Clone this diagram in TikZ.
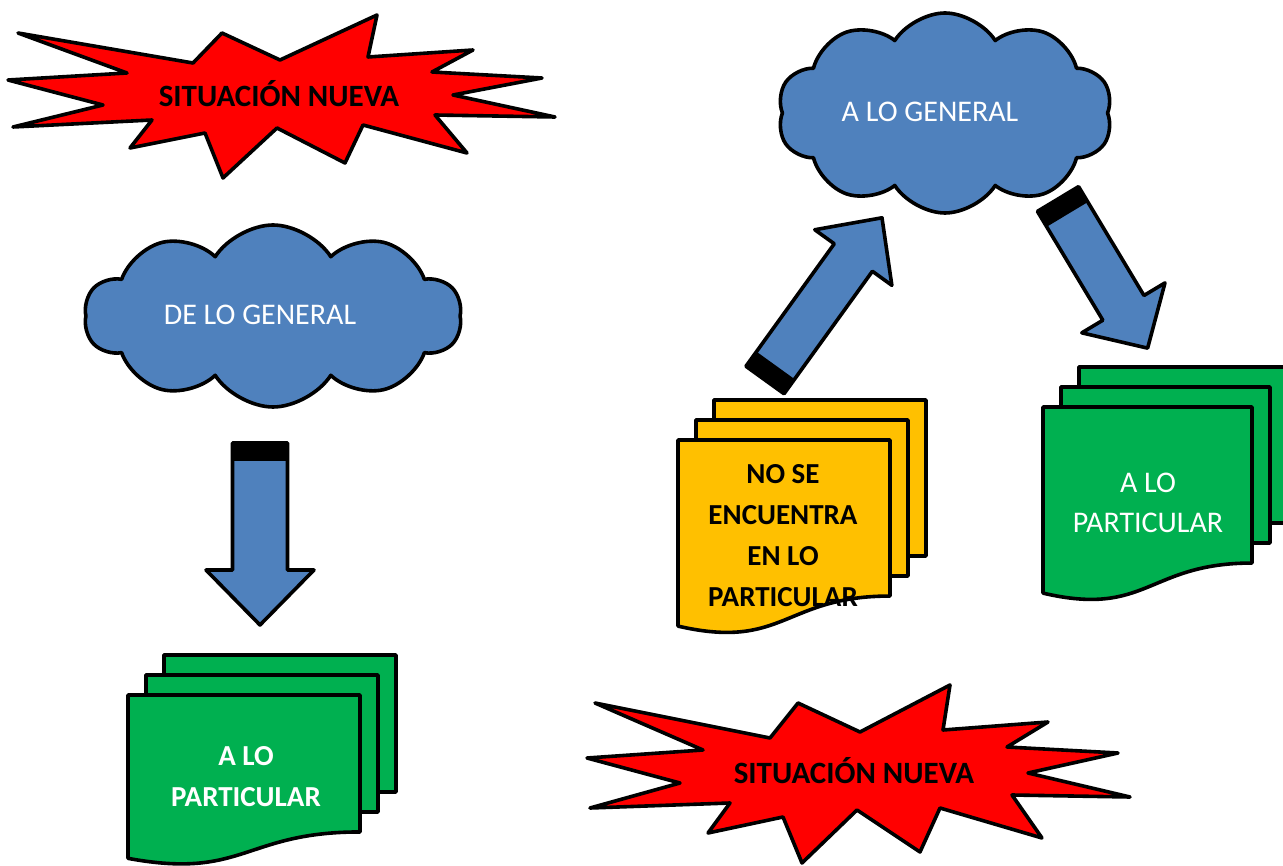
\documentclass[tikz,border=0pt]{standalone}
\usepackage{fontspec}
\setmainfont{Carlito}
\usetikzlibrary{shapes.symbols}

\definecolor{burstred}{HTML}{FF0000}
\definecolor{cloudblue}{HTML}{4F81BD}
\definecolor{docgreen}{HTML}{00B050}
\definecolor{docyellow}{HTML}{FFC000}

\tikzset{
  outline/.style={draw=black, line width=3.6pt, line join=round},
  burstbox/.style={outline, fill=burstred},
  cloudbox/.style={cloud, cloud puffs=10, cloud puff arc=115, outline, fill=cloudblue, inner sep=0pt},
  arrowbox/.style={outline, fill=cloudblue},
  docbox/.style={outline},
  burstext/.style={font=\fontsize{31}{41}\selectfont\bfseries, align=center},
  plaintext/.style={font=\fontsize{30}{40}\selectfont, align=center},
  boldtext/.style={font=\fontsize{29}{41}\selectfont\bfseries, align=center}
}

% block arrow: tail x, tail y, turn, length, half shaft, half head, head length
\newcommand{\blockarrow}[7]{%
  \begin{scope}[shift={(#1,#2)}, rotate=#3]
    \filldraw[arrowbox] (-#5,0) -- (-#5,#4-#7) -- (-#6,#4-#7) -- (0,#4)
      -- (#6,#4-#7) -- (#5,#4-#7) -- (#5,0) -- cycle;
    \fill[black] (-#5,0) rectangle (#5,18);
  \end{scope}}

% stack of pages: x, y, width, height, colour
\newcommand{\multidoc}[5]{%
  \foreach \k in {2,1}
    \filldraw[docbox, fill=#5] ({#1+18*\k},{#2-20*\k}) rectangle ++(#3,{0.83*#4});
  \filldraw[docbox, fill=#5] (#1,#2) -- ++(#3,0) -- ++(0,{0.83*#4})
    .. controls ({#1+0.5*#3},{#2+0.83*#4}) and ({#1+0.5*#3},{#2+1.12*#4})
    .. (#1,{#2+0.99*#4}) -- cycle;}

\begin{document}
\begin{tikzpicture}[x=1pt,y=-1pt]
  \useasboundingbox (0,0) rectangle (1283,866);

  %% burst top left
  \filldraw[burstbox] (18,33) -- (193,63) -- (222,33) -- (280,60) -- (377,15)
    -- (368,57) -- (473,50) -- (432,72) -- (542,78) -- (453,95) -- (555,117)
    -- (435,115) -- (467,153) -- (363,125) -- (345,163) -- (277,128) -- (223,178)
    -- (205,133) -- (130,148) -- (152,120) -- (13,127) -- (103,105) -- (8,80)
    -- (127,73) -- cycle;
  \node[burstext] (newtop) at (279,94) {SITUACIÓN NUEVA};

  %% cloud left
  \node[cloudbox, minimum width=377pt, minimum height=182pt] (cloudleft) at (273,316) {};
  \node[plaintext, text=white] (generalleft) at (260,315) {DE LO GENERAL};

  %% arrow down
  \blockarrow{260}{443}{0}{182}{27.5}{54}{55}

  %% pages left
  \multidoc{128}{695}{232}{165}{docgreen}
  \node[boldtext, text=white] (particularleft) at (246,777) {A LO\\PARTICULAR};

  %% cloud right
  \node[cloudbox, minimum width=335pt, minimum height=200pt] (cloudright) at (945,113) {};
  \node[plaintext, text=white] (generalright) at (930,112) {A LO GENERAL};

  %% arrows right
  \blockarrow{765}{380}{144.2}{200}{23.5}{47.5}{49}
  \blockarrow{1058}{199}{31}{174}{24}{48.5}{47}

  %% pages yellow
  \multidoc{678}{440}{212}{188}{docyellow}
  \node[boldtext] (notfound) at (783,536) {NO SE\\ENCUENTRA\\EN LO\\PARTICULAR};

  %% pages right
  \multidoc{1043}{407}{209}{188}{docgreen}
  \node[plaintext, text=white] (particularright) at (1148,503) {A LO\\PARTICULAR};

  %% burst bottom
  \filldraw[burstbox] (595,703) -- (770,738) -- (798,703) -- (860,732) -- (950,685)
    -- (943,730) -- (1048,722) -- (1007,747) -- (1118,753) -- (1028,773) -- (1130,797)
    -- (1012,795) -- (1042,838) -- (940,808) -- (920,852) -- (857,810) -- (802,863)
    -- (783,817) -- (708,833) -- (730,803) -- (590,808) -- (680,783) -- (587,758)
    -- (703,750) -- cycle;
  \node[burstext] (newbottom) at (854,771) {SITUACIÓN NUEVA};

\end{tikzpicture}
\end{document}
